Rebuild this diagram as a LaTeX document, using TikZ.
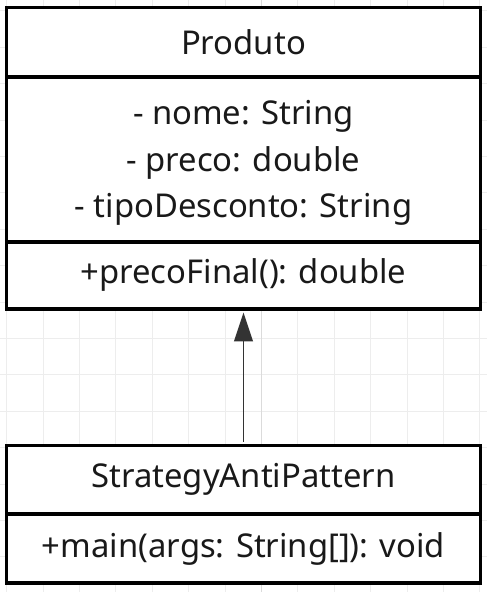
\documentclass[tikz,border=0pt]{standalone}
\usepackage{fontspec}
\setmainfont{Noto Sans}
\usetikzlibrary{arrows.meta,positioning}
\newcommand{\umlfont}{\fontsize{24.6pt}{29pt}\selectfont}

\begin{document}
\begin{tikzpicture}[x=0.75pt,y=-0.75pt,
    compart/.style={draw=black, fill=white, line width=2.8pt, minimum width=355.5pt,
        inner sep=0pt, align=center, font=\umlfont, text=black!90},
    gridline/.style={draw=black!7, line width=0.75pt}]
    \useasboundingbox[fill=white] (0,0) rectangle (487,592);
    \foreach \k in {0,...,13} \draw[gridline] (6.6+36.4*\k,0) -- (6.6+36.4*\k,592);
    \foreach \k in {0,...,16} \draw[gridline] (0,10.8+36.4*\k) -- (487,10.8+36.4*\k);
    \draw[draw=black!14, line width=0.75pt] (261.4,0) -- (261.4,592);
    \node[compart, minimum height=51.9pt] (prodName) at (243.5,42.1) {Produto};
    \node[compart, minimum height=123.75pt] (prodAttr) at (243.5,159.2)
        {\rule{0pt}{24pt}- nome: String\\[6pt]- preco: double\\[6pt]- tipoDesconto: String};
    \node[compart, minimum height=50.25pt] (prodOps) at (243.5,275.2) {+precoFinal(): double};
    \node[compart, minimum height=51.4pt] (antiName) at (243.5,479.75) {StrategyAntiPattern};
    \node[compart, minimum height=51.75pt] (antiOps) at (243.5,548.5) {+main(args: String[]): void};
    \draw[-{Triangle[length=21.75pt,width=14pt]}, draw=black!80, fill=black!80,
        line width=1.4pt, shorten <=1.4pt, shorten >=1.4pt] (antiName.north) -- (prodOps.south);
\end{tikzpicture}
\end{document}
